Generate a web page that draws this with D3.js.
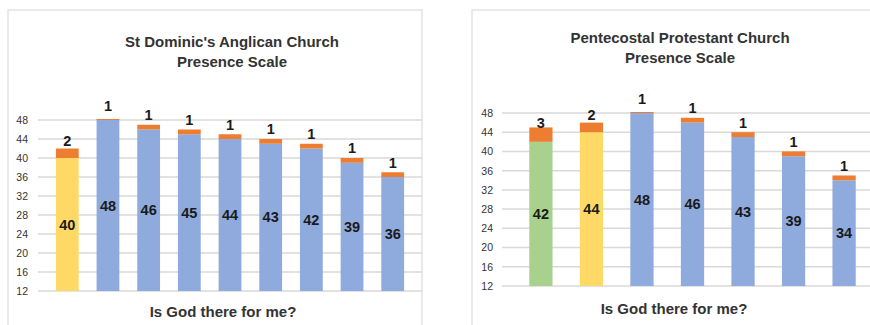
<!DOCTYPE html>
<html>
<head>
<meta charset="utf-8">
<script src="https://cdn.jsdelivr.net/npm/d3@7"></script>
<style>
  body { margin: 0; background: #fff; }
  svg { display: block; font-family: "Liberation Sans", Arial, sans-serif; }
</style>
</head>
<body>
<svg id="chart" width="870" height="325"></svg>
<script>
// St Dominic's (left)
const leftCategories = ["c1", "c2", "c3", "c4", "c5", "c6", "c7", "c8", "c9"]
const leftBase = [40, 48, 46, 45, 44, 43, 42, 39, 36]
const leftTop = [2, 1, 1, 1, 1, 1, 1, 1, 1]
const leftGroup = ["yellow", "blue", "blue", "blue", "blue", "blue", "blue", "blue", "blue"]

// Pentecostal (right)
const rightCategories = ["c1", "c2", "c3", "c4", "c5", "c6", "c7"]
const rightBase = [42, 44, 48, 46, 43, 39, 34]
const rightTop = [3, 2, 1, 1, 1, 1, 1]
const rightGroup = ["green", "yellow", "blue", "blue", "blue", "blue", "blue"]

const yTicks = [12, 16, 20, 24, 28, 32, 36, 40, 44, 48]

const palette = { yellow: "#FFD966", blue: "#8FAADC", green: "#A9D18E" }
const orange = "#ED7D31"
const grid = "#D9D9D9"

const svg = d3.select("#chart")

function drawPanel(opt) {
  const { id, panel, plot, title, categories, base, top, group, padding } = opt
  const g = svg.append("g")

  // panel frame
  g.append("rect")
    .attr("x", panel[0]).attr("y", panel[1])
    .attr("width", panel[2]).attr("height", panel[3])
    .attr("fill", "#fff").attr("stroke", "#E3E3E3").attr("stroke-width", 1.5)

  const x = d3.scaleBand().domain(categories).range([plot.left, plot.right]).padding(padding)
  const y = d3.scaleLinear().domain([12, 48]).range([plot.bottom, plot.top])

  // gridlines + tick labels
  const yAxis = d3.axisLeft(y).tickValues(yTicks).tickSize(0).tickPadding(0)
  g.append("g")
    .attr("transform", `translate(${plot.labelX},0)`)
    .call(yAxis)
    .call(a => a.select(".domain").remove())
    .call(a => a.selectAll("text")
      .attr("fill", "#333").attr("font-size", 10.5)
      .attr("font-family", "Liberation Sans, Arial, sans-serif"))
  g.append("g").selectAll("line")
    .data(yTicks).join("line")
    .attr("x1", plot.left).attr("x2", plot.gridEnd)
    .attr("y1", d => y(d)).attr("y2", d => y(d))
    .attr("stroke", grid).attr("stroke-width", 1.5)

  const clipId = "clip-" + id
  g.append("clipPath").attr("id", clipId)
    .append("rect")
    .attr("x", plot.left).attr("y", plot.top - 1)
    .attr("width", 1000).attr("height", plot.bottom - plot.top + 1)

  const bars = g.append("g").attr("clip-path", `url(#${clipId})`)
  bars.selectAll("rect.base")
    .data(categories).join("rect")
    .attr("class", "base")
    .attr("x", d => x(d)).attr("width", x.bandwidth())
    .attr("y", (d, i) => y(base[i]))
    .attr("height", (d, i) => y(12) - y(base[i]))
    .attr("fill", (d, i) => palette[group[i]])
  bars.selectAll("rect.top")
    .data(categories).join("rect")
    .attr("class", "top")
    .attr("x", d => x(d)).attr("width", x.bandwidth())
    .attr("y", (d, i) => y(base[i] + top[i]))
    .attr("height", (d, i) => y(base[i]) - y(base[i] + top[i]))
    .attr("fill", orange)

  // inner value labels
  g.append("g").selectAll("text")
    .data(categories).join("text")
    .attr("x", d => x(d) + x.bandwidth() / 2)
    .attr("y", (d, i) => y((12 + base[i]) / 2))
    .attr("dy", "0.35em")
    .attr("text-anchor", "middle")
    .attr("font-size", 14.5).attr("font-weight", "bold").attr("fill", "#1a1a1a")
    .text((d, i) => base[i])

  // orange labels
  g.append("g").selectAll("text")
    .data(categories).join("text")
    .attr("x", d => x(d) + x.bandwidth() / 2)
    .attr("y", (d, i) => y(base[i] + top[i] / 2) - 12)
    .attr("dy", "0.35em")
    .attr("text-anchor", "middle")
    .attr("font-size", 14.5).attr("font-weight", "bold").attr("fill", "#1a1a1a")
    .text((d, i) => top[i])

  // title
  const t = g.append("text")
    .attr("text-anchor", "middle")
    .attr("font-size", 15).attr("font-weight", "bold").attr("fill", "#333")
  title.lines.forEach((line, i) => {
    t.append("tspan").attr("x", title.x).attr("y", title.y + i * 20).text(line)
  })

  g.append("text")
    .attr("x", opt.xTitle[0]).attr("y", opt.xTitle[1])
    .attr("text-anchor", "middle")
    .attr("font-size", 15).attr("font-weight", "bold").attr("fill", "#333")
    .text("Is God there for me?")
}

drawPanel({
  id: "left",
  panel: [8, 10, 414, 330],
  plot: { left: 38, right: 422, top: 120, bottom: 291, gridEnd: 422, labelX: 28 },
  padding: 0.44,
  title: { x: 232, y: 47, lines: ["St Dominic's Anglican Church", "Presence Scale"] },
  xTitle: [223, 317],
  categories: leftCategories, base: leftBase, top: leftTop, group: leftGroup
})

drawPanel({
  id: "right",
  panel: [472, 10, 420, 330],
  plot: { left: 502, right: 883, top: 113, bottom: 286, gridEnd: 880, labelX: 493 },
  padding: 0.54,
  title: { x: 680, y: 43, lines: ["Pentecostal Protestant Church", "Presence Scale"] },
  xTitle: [674, 314],
  categories: rightCategories, base: rightBase, top: rightTop, group: rightGroup
})
</script>
</body>
</html>
